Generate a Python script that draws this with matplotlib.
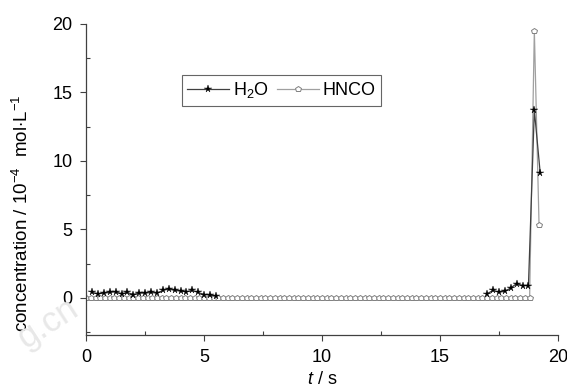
import numpy as np
import matplotlib
matplotlib.use("Agg")
import matplotlib.pyplot as plt
from matplotlib.ticker import MultipleLocator

plt.rcParams["font.family"] = ["Liberation Sans", "DejaVu Sans"]
plt.rcParams["mathtext.fontset"] = "custom"
plt.rcParams["mathtext.rm"] = "Liberation Sans"
plt.rcParams["mathtext.it"] = "Liberation Sans:italic"

# H2O, sampled every 0.25 s (no readings between 5.5 s and 17 s)
h2o_t = [0.25, 0.5, 0.75, 1.0, 1.25, 1.5, 1.75, 2.0, 2.25, 2.5, 2.75,
         3.0, 3.25, 3.5, 3.75, 4.0, 4.25, 4.5, 4.75, 5.0, 5.25, 5.5,
         11.0,
         17.0, 17.25, 17.5, 17.75, 18.0, 18.25, 18.5, 18.75, 19.0, 19.25]
h2o_c = [0.4, 0.3, 0.35, 0.4, 0.45, 0.3, 0.4, 0.25, 0.35, 0.35, 0.4,
         0.35, 0.55, 0.65, 0.55, 0.5, 0.45, 0.55, 0.4, 0.25, 0.2, 0.15,
         np.nan,
         0.3, 0.56, 0.41, 0.49, 0.73, 1.05, 0.9, 0.9, 13.7, 9.1]

# HNCO, sampled every 0.2 s
hnco_t = [round(0.2 * i, 1) for i in range(97)]
hnco_c = [0.0] * 95 + [19.5, 5.3]

fig = plt.figure(figsize=(5.67, 3.85), dpi=100)
ax = fig.add_axes([0.152, 0.130, 0.832, 0.808])

ax.plot(hnco_t, hnco_c, color="#a0a0a0", lw=0.9, marker="p", ms=4.2,
        mfc="white", mec="#808080", mew=0.7, label="HNCO", zorder=2)
ax.plot(h2o_t, h2o_c, color="#404040", lw=0.9, marker="*", ms=5.5,
        mfc="black", mec="black", mew=0.3, label="H$_2$O", zorder=3)

ax.set_xlim(0, 20)
ax.set_ylim(-2.7, 20)
ax.xaxis.set_major_locator(MultipleLocator(5))
ax.xaxis.set_minor_locator(MultipleLocator(2.5))
ax.yaxis.set_major_locator(MultipleLocator(5))
ax.yaxis.set_minor_locator(MultipleLocator(2.5))

for s in ["top", "right"]:
    ax.spines[s].set_visible(False)
for s in ["left", "bottom"]:
    ax.spines[s].set_color("#404040")
    ax.spines[s].set_linewidth(0.9)

ax.tick_params(which="major", direction="out", length=4, width=0.8,
               color="#404040", labelsize=13, pad=6)
ax.tick_params(which="minor", direction="in", length=3, width=0.8,
               color="#404040")

ax.set_ylabel("concentration / 10$^{-4}$  mol$\\cdot$L$^{-1}$", fontsize=13.5)
ax.yaxis.set_label_coords(-0.115, 0.39)
ax.set_xlabel("$t$ / s", fontsize=13)
ax.xaxis.set_label_coords(0.5, -0.115)

handles, labels = ax.get_legend_handles_labels()
leg = ax.legend(handles[::-1], labels[::-1], ncol=2, loc="upper left",
                bbox_to_anchor=(182 / 567, 1 - 75 / 385),
                bbox_transform=fig.transFigure, fontsize=13, frameon=True,
                fancybox=False, edgecolor="#404040", handlelength=2.3,
                handletextpad=0.2, columnspacing=0.5, borderpad=0.3,
                borderaxespad=0)
leg.get_frame().set_linewidth(0.8)

# faint watermark in the lower left corner
fig.text(0.085, 0.16, "g.cn", fontsize=25, color="#e8e8e8", rotation=33,
         ha="center", va="center", zorder=0)

fig.savefig("out.png", dpi=100)
